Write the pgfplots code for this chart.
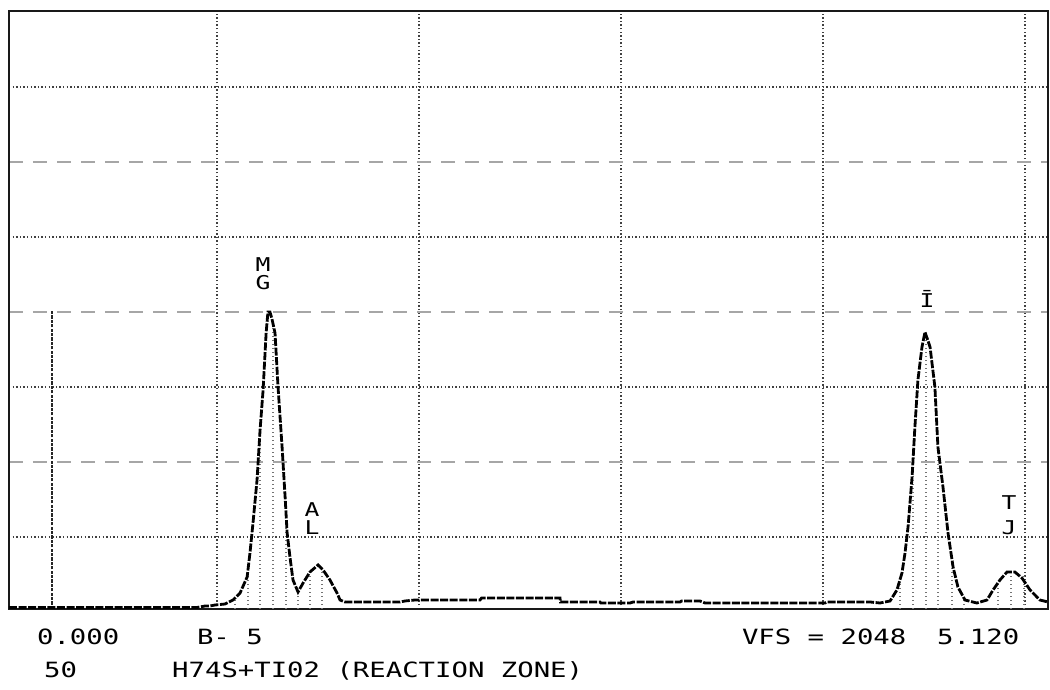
\documentclass[border=0pt]{standalone}
\usepackage{fontspec}
\usepackage{pgfplots}
\pgfplotsset{compat=1.18}
\newfontfamily\dm[FakeStretch=1.3]{DejaVu Sans Mono}
\begin{document}
\begin{tikzpicture}
\begin{axis}[
  scale only axis, width=519.5pt, height=299pt,
  xmin=-0.03, xmax=5.114, ymin=0, ymax=598,
  axis line style={line width=1.4pt, black!90},
  xtick={1,2,3,4,5}, ytick={72,222,372,522}, minor ytick={147,297,447},
  xticklabels={}, yticklabels={},
  major tick length=0pt, minor tick length=0pt,
  xmajorgrids=true, ymajorgrids=true, yminorgrids=true,
  major grid style={black!75, line width=0.7pt, dash pattern=on 0.7pt off 1.1pt},
  minor grid style={black!35, line width=0.7pt, dash pattern=on 7pt off 5pt},
  clip=false,
  every node/.style={inner sep=0pt, text=black!85},
]
% cursor line
\addplot[black!85, line width=1.3pt, dash pattern=on 1.6pt off 0.6pt] coordinates {(0.183,0) (0.183,298)};
% channel fill lines
\addplot[ycomb, black!55, line width=0.7pt, dash pattern=on 0.6pt off 1.4pt] coordinates {
(1.089,9) (1.153,38) (1.213,179) (1.277,285) (1.342,95) (1.401,17) (1.460,37) (1.520,42)
(4.381,28) (4.446,140) (4.510,275) (4.569,162) (4.639,45) (4.698,10) (4.866,27) (4.931,37) (4.995,33)};
% spectrum
\addplot[black, line width=1.4pt, dash pattern=on 4pt off 0.8pt] coordinates {
(-0.03,1.5) (0.90,1.5) (0.941,3) (0.965,3) (0.99,4) (1.040,5) (1.079,9) (1.114,16) (1.149,32)
(1.163,56) (1.178,86) (1.198,129) (1.213,179) (1.228,219) (1.243,276) (1.252,297) (1.262,297)
(1.272,290) (1.287,276) (1.302,222) (1.322,162) (1.337,112) (1.347,76) (1.361,52) (1.376,29)
(1.401,17) (1.426,26) (1.460,37) (1.500,44) (1.525,39) (1.559,29) (1.594,16) (1.609,9) (1.634,7)
(1.906,7) (1.93,8) (1.98,9) (2.302,9) (2.31,11) (2.698,11) (2.70,7) (2.896,7) (2.90,6) (3.045,6)
(3.06,7) (3.292,7) (3.30,8) (3.391,8) (3.416,6) (4.010,6) (4.02,7) (4.233,7) (4.282,6) (4.332,8)
(4.366,19) (4.391,36) (4.406,56) (4.421,82) (4.441,132) (4.455,182) (4.470,229) (4.490,262)
(4.505,277) (4.530,262) (4.554,222) (4.569,162) (4.594,122) (4.619,76) (4.644,42) (4.668,22)
(4.703,9) (4.762,6) (4.812,9) (4.842,19) (4.876,29) (4.911,37) (4.950,37) (4.985,31) (5.025,19)
(5.074,9) (5.114,7)};
% peak labels
\node[anchor=base, font=\dm\fontsize{9.5}{11}\selectfont] at (axis cs:1.228,337) {M};
\node[anchor=base, font=\dm\fontsize{9.5}{11}\selectfont] at (axis cs:1.228,319) {G};
\node[anchor=base, font=\dm\fontsize{9.5}{11}\selectfont] at (axis cs:1.470,92) {A};
\node[anchor=base, font=\dm\fontsize{9.5}{11}\selectfont] at (axis cs:1.470,74) {L};
\node[anchor=base, font=\dm\fontsize{9.5}{11}\selectfont] at (axis cs:4.515,301) {Ī};
\node[anchor=base, font=\dm\fontsize{9.5}{11}\selectfont] at (axis cs:4.921,99) {T};
\node[anchor=base, font=\dm\fontsize{9.5}{11}\selectfont] at (axis cs:4.921,74) {J};
% footer text
\node[anchor=base west, font=\dm\fontsize{10.5}{12}\selectfont] at (axis cs:0.074,-36) {0.000};
\node[anchor=base west, font=\dm\fontsize{10.5}{12}\selectfont] at (axis cs:0.866,-36) {B- 5};
\node[anchor=base west, font=\dm\fontsize{10.5}{12}\selectfont] at (axis cs:3.564,-36) {VFS = 2048};
\node[anchor=base west, font=\dm\fontsize{10.5}{12}\selectfont] at (axis cs:4.530,-36) {5.120};
\node[anchor=base west, font=\dm\fontsize{10.5}{12}\selectfont] at (axis cs:0.109,-69) {50};
\node[anchor=base west, font=\dm\fontsize{10.5}{12}\selectfont] at (axis cs:0.743,-69) {H74S+TI02 (REACTION ZONE)};
\end{axis}
\pgfresetboundingbox
\path (-4.5pt,-40.5pt) rectangle (520.5pt,304.5pt);
\end{tikzpicture}
\end{document}
